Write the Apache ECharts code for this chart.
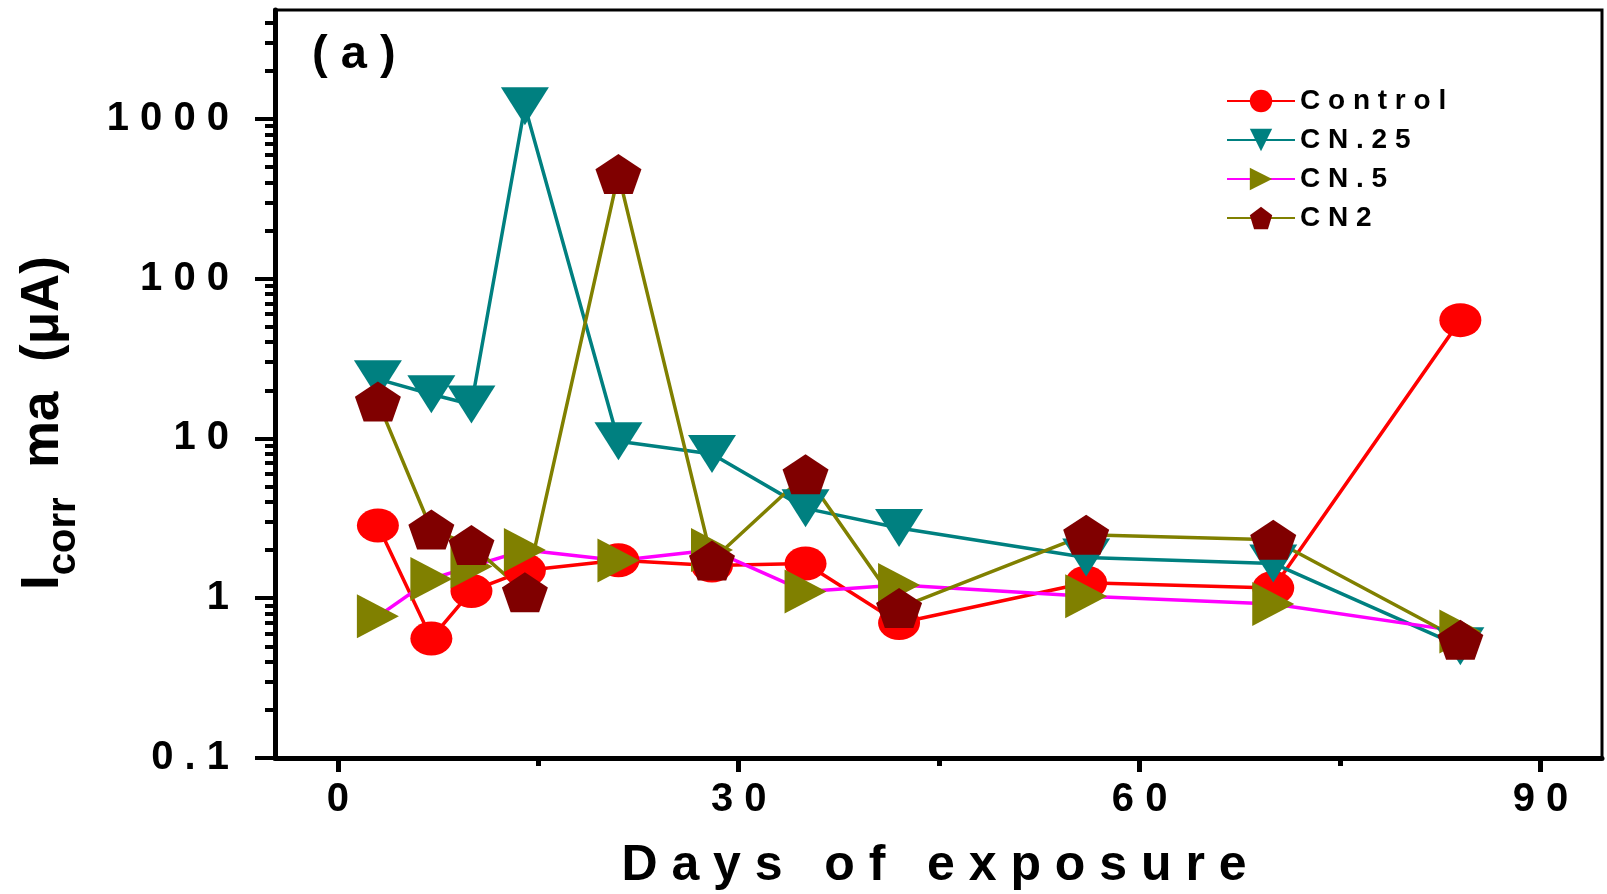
<!DOCTYPE html>
<html>
<head>
<meta charset="utf-8">
<script src="https://cdn.jsdelivr.net/npm/echarts@6/dist/echarts.min.js"></script>
<style>
  html, body { margin: 0; padding: 0; background: #fff; }
  #chart { width: 1607px; height: 894px; }
</style>
</head>
<body>
<div id="chart"></div>
<script>
// days of exposure
const days = [3, 7, 10, 14, 21, 28, 35, 42, 56, 70, 84]
// Icorr values (uA)
const control = [2.85, 0.56, 1.11, 1.49, 1.73, 1.6, 1.65, 0.70, 1.25, 1.16, 55]
const cn25 = [23.5, 18.9, 16.3, 1200, 9.6, 8.0, 3.65, 2.75, 1.8, 1.65, 0.5]
const cn5 = [0.77, 1.32, 1.58, 2.0, 1.72, 2.0, 1.10, 1.21, 1.03, 0.92, 0.62]
const cn2 = [17, 2.69, 2.15, 1.09, 451, 1.72, 5.97, 0.87, 2.5, 2.32, 0.55]

const xTicks = [0, 30, 60, 90]
const xMinorTicks = [15, 45, 75]
const yTicks = [0.1, 1, 10, 100, 1000]
const yMinorTicks = [0.2, 0.3, 0.4, 0.5, 0.6, 0.7, 0.8, 0.9,
  2, 3, 4, 5, 6, 7, 8, 9,
  20, 30, 40, 50, 60, 70, 80, 90,
  200, 300, 400, 500, 600, 700, 800, 900,
  2000, 3000, 4000]

const FONT = '"Liberation Sans", Arial, sans-serif'
const spaced = s => String(s).split('').join(' ')
const pairs = vals => days.map((d, i) => [d, vals[i]])

const chart = echarts.init(document.getElementById('chart'))

const pentagon = 'path://M50,0 L100,38 L81,100 L19,100 L0,38 Z'

function lineSeries(name, vals, lineColor, symColor, symbol, size, rot) {
  return {
    name: name,
    type: 'line',
    data: pairs(vals),
    symbol: symbol,
    symbolSize: size,
    symbolRotate: rot || 0,
    showAllSymbol: true,
    lineStyle: { color: lineColor, width: 3.5 },
    itemStyle: { color: symColor },
    emphasis: { disabled: true },
  }
}

const option = {
  backgroundColor: '#fff',
  animation: false,
  grid: {
    left: 275,
    right: 5,
    top: 10,
    bottom: 136,
    show: true,
    borderColor: '#000',
    borderWidth: 3,
  },
  legend: {
    orient: 'vertical',
    left: 1221,
    top: 82,
    itemWidth: 68,
    itemHeight: 28,
    itemGap: 11,
    formatter: name => spaced(name),
    textStyle: {
      fontFamily: FONT,
      fontWeight: 'bold',
      fontSize: 28,
      lineHeight: 28,
      color: '#000',
    },
    data: ['Control', 'CN.25', 'CN.5', 'CN2'],
  },
  xAxis: [{
    type: 'value',
    min: -4.7,
    max: 94.6,
    axisLine: { show: true, onZero: false, lineStyle: { color: '#000', width: 5 } },
    axisTick: { show: true, customValues: xTicks, length: 14, lineStyle: { color: '#000', width: 5 } },
    axisLabel: {
      customValues: xTicks,
      formatter: v => spaced(v),
      fontFamily: FONT,
      fontWeight: 'bold',
      fontSize: 40,
      color: '#000',
      margin: 22,
    },
    splitLine: { show: false },
  }, {
    type: 'value',
    min: -4.7,
    max: 94.6,
    position: 'bottom',
    axisLine: { show: false, onZero: false },
    axisTick: { show: true, customValues: xMinorTicks, length: 8, lineStyle: { color: '#000', width: 5 } },
    axisLabel: { show: false },
    splitLine: { show: false },
  }],
  yAxis: [{
    type: 'log',
    logBase: 10,
    min: 0.1,
    max: 4800,
    position: 'left',
    axisLine: { show: true, onZero: false, lineStyle: { color: '#000', width: 5 } },
    axisTick: { show: true, customValues: yTicks, length: 20, lineStyle: { color: '#000', width: 4 } },
    axisLabel: {
      customValues: yTicks,
      formatter: v => spaced(v),
      fontFamily: FONT,
      fontWeight: 'bold',
      fontSize: 40,
      color: '#000',
      margin: 46,
    },
    splitLine: { show: false },
  }, {
    type: 'log',
    logBase: 10,
    min: 0.1,
    max: 4800,
    position: 'left',
    axisLine: { show: false, onZero: false },
    axisTick: { show: true, customValues: yMinorTicks, length: 10, lineStyle: { color: '#000', width: 4 } },
    axisLabel: { show: false },
    splitLine: { show: false },
  }],
  graphic: [{
    type: 'text',
    left: 312,
    top: 32,
    style: {
      text: '( a )',
      font: 'bold 47px ' + FONT,
      fill: '#000',
    },
  }, {
    type: 'text',
    x: 934,
    y: 866,
    style: {
      text: 'D a y s   o f   e x p o s u r e',
      font: 'bold 50px ' + FONT,
      fill: '#000',
      align: 'center',
      verticalAlign: 'middle',
    },
  }, {
    type: 'text',
    x: 43,
    y: 423,
    rotation: Math.PI / 2,
    style: {
      text: '{a|I}{b|corr}{a|  ma  (μA)}',
      align: 'center',
      verticalAlign: 'middle',
      fill: '#000',
      rich: {
        a: { font: 'bold 53px ' + FONT, fill: '#000', verticalAlign: 'bottom' },
        b: { font: 'bold 40px ' + FONT, fill: '#000', verticalAlign: 'bottom', padding: [0, 0, -14, 0] },
      },
    },
  }],
  series: [
    lineSeries('Control', control, '#ff0000', '#ff0000', 'circle', [42, 34]),
    lineSeries('CN.25', cn25, '#008080', '#008080', 'triangle', [48, 38], 180),
    lineSeries('CN.5', cn5, '#ff00ff', '#808000', 'triangle', [44, 42], -90),
    lineSeries('CN2', cn2, '#808000', '#800000', pentagon, [46, 40]),
  ],
}

chart.setOption(option)
</script>
</body>
</html>
